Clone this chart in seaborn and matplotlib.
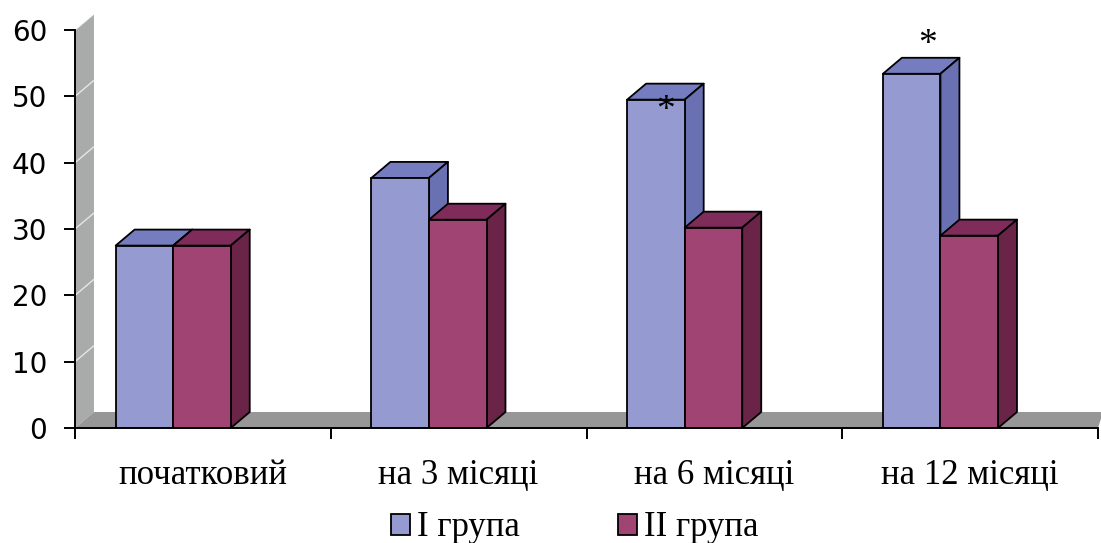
import numpy as np
import pandas as pd
import matplotlib
matplotlib.use("Agg")
import matplotlib.pyplot as plt
from matplotlib.patches import Polygon, Patch
from matplotlib.lines import Line2D
import seaborn as sns

# Data
categories = ["початковий", "на 3 місяці", "на 6 місяці", "на 12 місяці"]
groups = ["I група", "II група"]
group1 = [27.5, 37.7, 49.5, 53.4]
group2 = [27.5, 31.4, 30.2, 29.0]
starred = [False, False, True, True]   # significant difference marks on group I

df = pd.DataFrame({
    "period": categories * 2,
    "group": [groups[0]] * 4 + [groups[1]] * 4,
    "value": group1 + group2,
})

front = {"I група": "#959bd0", "II група": "#a04474"}
top_c = {"I група": "#767cc0", "II група": "#7f2c5b"}
side_c = {"I група": "#6a71b3", "II група": "#6a2448"}

sns.set_theme(style="white")
plt.rcParams["font.family"] = ["Liberation Serif", "DejaVu Serif"]
plt.rcParams["text.color"] = "black"

W, H = 1101, 543
fig = plt.figure(figsize=(W / 100, H / 100), dpi=100)
ax = fig.add_axes([75 / W, 1 - 428 / H, (1098 - 75) / W, (428 - 30) / H])

sns.barplot(data=df, x="period", y="value", hue="group", order=categories,
            hue_order=groups, palette=front, width=0.45, dodge=True,
            saturation=1, edgecolor="black", linewidth=1.3, ax=ax,
            legend=False, zorder=5)

ax.set_xlim(-0.5, 3.5)
ax.set_ylim(0, 60)

# depth of the pseudo-3D effect, in pixels
DX_PX, DY_PX = 19, 16
x_per_px = 4.0 / (1098 - 75 + 1.6)
y_per_px = 60.0 / (428 - 30)
ddx, ddy = DX_PX * x_per_px, DY_PX * y_per_px
shift = -0.116

# left wall and floor
wall = Polygon([(-0.5, 0), (-0.5 + ddx, ddy), (-0.5 + ddx, 60 + ddy), (-0.5, 60)],
               closed=True, facecolor="#a9aaaa", edgecolor="none",
               zorder=1, clip_on=False)
ax.add_patch(wall)
floor = Polygon([(-0.5, 0), (-0.5 + ddx, ddy), (3.52, ddy), (3.5, 0)],
                closed=True, facecolor="#979797", edgecolor="none",
                zorder=1, clip_on=False)
ax.add_patch(floor)
for t in range(10, 61, 10):
    ax.add_line(Line2D([-0.5, -0.5 + ddx], [t, t + ddy], color="white",
                       lw=1.0, alpha=0.7, zorder=2, clip_on=False))

# extrude bars: top and side faces behind each front face
for gi, cont in enumerate(ax.containers):
    gname = groups[gi]
    for bar in cont.patches:
        bar.set_x(bar.get_x() + shift)
        x0 = bar.get_x()
        w = bar.get_width()
        h = bar.get_height()
        x1 = x0 + w
        z_here = 5 + gi * 3
        bar.set_zorder(z_here + 2)
        topf = Polygon([(x0, h), (x0 + ddx, h + ddy), (x1 + ddx, h + ddy), (x1, h)],
                       closed=True, facecolor=top_c[gname], edgecolor="black",
                       lw=1.3, zorder=z_here, joinstyle="round")
        sidef = Polygon([(x1, 0), (x1 + ddx, ddy), (x1 + ddx, h + ddy), (x1, h)],
                        closed=True, facecolor=side_c[gname], edgecolor="black",
                        lw=1.3, zorder=z_here + 1, joinstyle="round")
        ax.add_patch(topf)
        ax.add_patch(sidef)

# significance asterisks above group I
blue_bars = ax.containers[0].patches
for i, bar in enumerate(blue_bars):
    if not starred[i]:
        continue
    cx = bar.get_x() + bar.get_width() / 2 + ddx * (0.5 if i == 2 else 0.85)
    h = bar.get_height()
    dy_pts = -8 if i == 2 else 21
    ax.annotate("*", xy=(cx, h), xytext=(0, dy_pts), textcoords="offset points",
                ha="center", va="center", fontsize=27, zorder=20, color="black",
                family=["Liberation Serif"])

# spines and ticks
for s in ["top", "right"]:
    ax.spines[s].set_visible(False)
for s in ["left", "bottom"]:
    ax.spines[s].set_visible(True)
    ax.spines[s].set_color("black")
    ax.spines[s].set_linewidth(1.4)
    ax.spines[s].set_zorder(30)

ax.set_yticks(range(0, 61, 10))
ax.tick_params(axis="y", which="major", direction="out", length=8, width=1.4,
               color="black", pad=12, labelsize=20, left=True, labelcolor="black")
for lab in ax.get_yticklabels():
    lab.set_family(["DejaVu Sans"])

ax.set_xticks(range(4))
ax.set_xticklabels(categories)
ax.set_xticks([-0.5, 0.5, 1.5, 2.5, 3.5], minor=True)
ax.tick_params(axis="x", which="major", length=0, pad=22, labelsize=25,
               labelcolor="black")
ax.tick_params(axis="x", which="minor", direction="out", length=8, width=1.4,
               color="black", bottom=True)
ax.set_xlabel("")
ax.set_ylabel("")
ax.grid(False)

handles = [Patch(facecolor=front[g], edgecolor="black", lw=1.3) for g in groups]
leg = fig.legend(handles, groups, loc="center", bbox_to_anchor=(0.522, 1 - 528 / H),
                 ncol=2, frameon=False, fontsize=25, handlelength=0.55,
                 handleheight=0.55, handletextpad=0.2, columnspacing=2.8,
                 borderpad=0.0)
for t in leg.get_texts():
    t.set_color("black")

fig.savefig("out.png", dpi=100, facecolor="white")
